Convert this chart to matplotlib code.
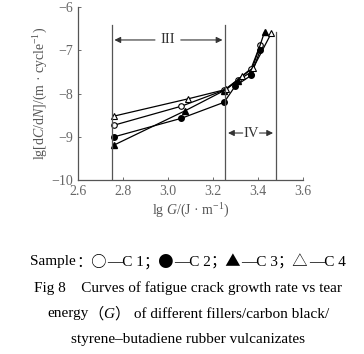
import numpy as np
import matplotlib.pyplot as plt

plt.rcParams['font.family'] = ['Liberation Serif', 'Noto Sans CJK SC', 'DejaVu Sans']
plt.rcParams['mathtext.fontset'] = 'custom'
plt.rcParams['mathtext.rm'] = 'Liberation Serif'
plt.rcParams['mathtext.it'] = 'Liberation Serif:italic'

# lg G values and lg(dC/dN) values
c1_x = [2.76, 3.06, 3.25, 3.31, 3.37, 3.41]
c1_y = [-8.73, -8.29, -7.92, -7.68, -7.42, -6.88]
c2_x = [2.76, 3.06, 3.25, 3.30, 3.37, 3.41]
c2_y = [-9.00, -8.57, -8.20, -7.82, -7.58, -7.00]
c3_x = [2.76, 3.075, 3.25, 3.31, 3.37, 3.43]
c3_y = [-9.19, -8.40, -7.93, -7.70, -7.50, -6.57]
c4_x = [2.76, 3.09, 3.26, 3.33, 3.38, 3.46]
c4_y = [-8.52, -8.12, -7.90, -7.60, -7.40, -6.60]

region_bounds = [2.75, 3.255, 3.48]
xticks = [2.6, 2.8, 3.0, 3.2, 3.4, 3.6]
yticks = [-10, -9, -8, -7, -6]

fig = plt.figure(figsize=(3.64, 3.54), dpi=100)
ax = fig.add_axes([0.214, 0.491, 0.618, 0.489])

ax.plot(c1_x, c1_y, '-o', color='black', mfc='white', ms=4, lw=0.9, mew=0.8)
ax.plot(c2_x, c2_y, '-o', color='black', mfc='black', ms=4, lw=0.9)
ax.plot(c3_x, c3_y, '-^', color='black', mfc='black', ms=4, lw=0.9)
ax.plot(c4_x, c4_y, '-^', color='black', mfc='white', ms=4.5, lw=0.9, mew=0.8)

# region boundaries
ax.plot([region_bounds[0]] * 2, [-10, -6.42], color='#555555', lw=0.9)
ax.plot([region_bounds[1]] * 2, [-10, -6.42], color='#555555', lw=0.9)
ax.plot([region_bounds[2]] * 2, [-10, -6.58], color='#555555', lw=0.9)

arr = dict(arrowstyle='-|>', color='#333333', lw=0.8, mutation_scale=9)
ax.annotate('', xy=(region_bounds[0], -6.76), xytext=(2.955, -6.76), arrowprops=arr)
ax.annotate('', xy=(region_bounds[1], -6.76), xytext=(3.045, -6.76), arrowprops=arr)
ax.text(3.0, -6.76, 'III', ha='center', va='center', fontsize=10.5, color='#333333')
ax.annotate('', xy=(region_bounds[1], -8.91), xytext=(3.345, -8.91), arrowprops=arr)
ax.annotate('', xy=(region_bounds[2], -8.91), xytext=(3.395, -8.91), arrowprops=arr)
ax.text(3.37, -8.91, 'IV', ha='center', va='center', fontsize=10.5, color='#333333')

ax.set_xlim(2.6, 3.6)
ax.set_ylim(-10, -6)
ax.set_xticks(xticks)
ax.set_yticks(yticks)
ax.set_xticklabels(['2.6', '2.8', '3.0', '3.2', '3.4', '3.6'])
ax.set_yticklabels(['−10', '−9', '−8', '−7', '−6'])
ax.tick_params(direction='in', length=2, width=0.6, labelsize=10, colors='#555555', labelcolor='#666666')
for s in ['top', 'right']:
    ax.spines[s].set_visible(False)
for s in ['left', 'bottom']:
    ax.spines[s].set_color('#555555')
    ax.spines[s].set_linewidth(0.9)

ax.set_xlabel(r'lg $G$/(J · m$^{-1}$)', fontsize=10, color='#555555', labelpad=3)
ax.set_ylabel(r'lg[d$C$/d$N$]/(m · cycle$^{-1}$)', fontsize=10, color='#555555', labelpad=1)

# caption lines built from pieces so that symbols and italics can use their own fonts
serif = ['Liberation Serif', 'Noto Sans CJK SC']
cjk = ['Noto Sans CJK SC', 'Liberation Serif']
fs = 11
renderer = fig.canvas.get_renderer()


def line(y, pieces):
    texts = []
    for s, fam, style in pieces:
        t = fig.text(0, y, s, family=fam, style=style, fontsize=fs, va='center', ha='left')
        texts.append(t)
    widths = [t.get_window_extent(renderer).width for t in texts]
    total = sum(widths)
    x = (fig.bbox.width - total) / 2 + 6
    for t, w in zip(texts, widths):
        t.set_x(x / fig.bbox.width)
        x += w


line(1 - 262 / 354, [('Sample', serif, 'normal'), ('：○', cjk, 'normal'), ('—C 1', serif, 'normal'),
                     ('；●', cjk, 'normal'), ('—C 2', serif, 'normal'), ('；▲', cjk, 'normal'),
                     ('—C 3', serif, 'normal'), ('；△', cjk, 'normal'), ('—C 4', serif, 'normal')])
line(1 - 288 / 354, [('Fig 8    Curves of fatigue crack growth rate vs tear', serif, 'normal')])
line(1 - 314 / 354, [('energy', serif, 'normal'), ('（', cjk, 'normal'), ('G', serif, 'italic'),
                     ('）', cjk, 'normal'), (' of different fillers/carbon black/', serif, 'normal')])
line(1 - 339 / 354, [('styrene–butadiene rubber vulcanizates', serif, 'normal')])

fig.savefig('out.png', dpi=100)
